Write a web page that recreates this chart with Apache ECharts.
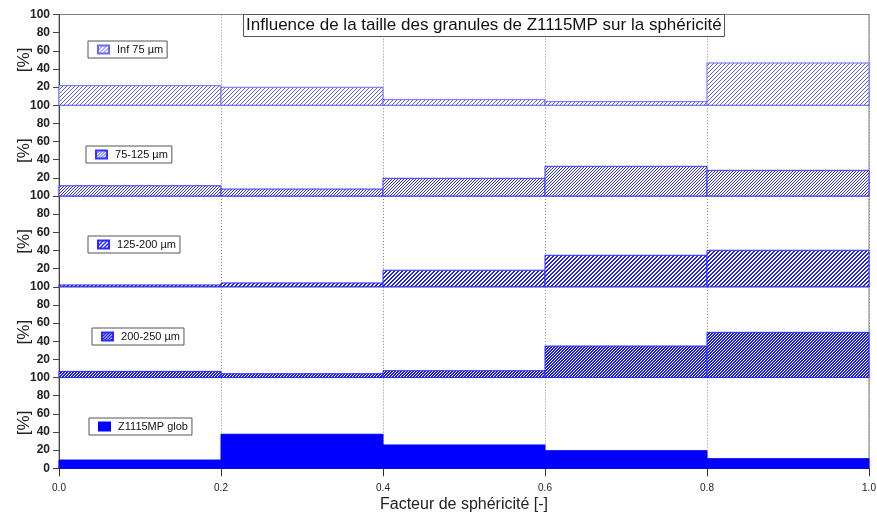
<!DOCTYPE html>
<html>
<head>
<meta charset="utf-8">
<script src="https://cdn.jsdelivr.net/npm/echarts@6/dist/echarts.min.js"></script>
<style>
  html, body { margin: 0; padding: 0; background: #fff; }
  #chart { width: 877px; height: 512px; }
</style>
</head>
<body>
<div id="chart"></div>
<script>
// Sphericity classes (bin edges) and the percentage of granules in each class
const binEdges = [0.0, 0.2, 0.4, 0.6, 0.8, 1.0];
const xTickLabels = ['0.0', '0.2', '0.4', '0.6', '0.8', '1.0'];
const yTicks = [0, 20, 40, 60, 80, 100];
const seriesNames = ['Inf 75 µm', '75-125 µm', '125-200 µm', '200-250 µm', 'Z1115MP glob'];

const inf75     = [21.6, 19.8, 6.2, 4.0, 46.6];
const s75to125  = [11.3, 7.7, 19.5, 32.7, 28.3];
const s125to200 = [2.0, 4.2, 18.2, 34.7, 40.2];
const s200to250 = [6.8, 4.2, 7.5, 34.7, 49.8];
const glob      = [9.1, 37.5, 25.7, 19.4, 10.6];

const panelValues = [inf75, s75to125, s125to200, s200to250, glob];

// Diagonal hatch tiles: pixel (x, y) is inked when (x + y) mod period < width
function hatch(period, width, color) {
  const c = document.createElement('canvas');
  c.width = period; c.height = period;
  const g = c.getContext('2d');
  g.fillStyle = '#ffffff';
  g.fillRect(0, 0, period, period);
  g.fillStyle = color;
  for (let x = 0; x < period; x++) {
    for (let y = 0; y < period; y++) {
      if ((x + y) % period < width) g.fillRect(x, y, 1, 1);
    }
  }
  return { image: c, repeat: 'repeat' };
}

const fills = [
  hatch(4, 1, '#5a5aff'),
  hatch(3, 1, '#2b2bff'),
  hatch(4, 2, '#1f1fff'),
  hatch(3, 2, '#1a1aff'),
  '#0000ff'
];
const outlines = ['#6a6aff', '#3434ff', '#2a2aff', '#2a2aff', '#0000ff'];

const FONT = 'Liberation Sans, Arial, sans-serif';
const gridLeft = 59, gridWidth = 810, gridTop = 14.5, panelH = 90.76;
const legendPos = [[88, 41], [86, 146], [88, 236], [92, 328], [89, 418]];

const grids = [], xAxes = [], yAxes = [], series = [], legends = [];
panelValues.forEach((vals, i) => {
  const last = i === panelValues.length - 1;
  grids.push({
    left: gridLeft, width: gridWidth, top: gridTop + i * panelH, height: panelH,
    outerBoundsMode: 'none', containLabel: false,
    show: true, borderColor: '#808080', borderWidth: 1, backgroundColor: 'transparent'
  });
  xAxes.push({
    type: 'value', gridIndex: i, min: 0, max: 1, interval: 0.2,
    axisLine: { show: last, lineStyle: { color: '#333', width: 1 } },
    axisTick: { show: last, length: 8, lineStyle: { color: '#333' } },
    axisLabel: {
      show: last, margin: 15, fontFamily: FONT, fontSize: 10, color: '#222',
      formatter: v => xTickLabels[Math.round(v / 0.2)]
    },
    splitLine: { show: true, lineStyle: { color: '#808080', type: [1, 2], width: 1 } },
    name: last ? 'Facteur de sphéricité [-]' : '',
    nameLocation: 'middle', nameGap: 28, nameMoveOverlap: false,
    nameTextStyle: { fontFamily: FONT, fontSize: 16, color: '#222' }
  });
  yAxes.push({
    type: 'value', gridIndex: i, min: 0, max: 100, interval: 20,
    axisLine: { show: true, lineStyle: { color: '#444', width: 1 } },
    axisTick: { show: true, length: 6, lineStyle: { color: '#444' } },
    axisLabel: {
      margin: 9, fontFamily: FONT, fontSize: 12, fontWeight: 'bold', color: '#222',
      formatter: v => (v === 0 && !last) ? '' : String(yTicks[yTicks.indexOf(v)])
    },
    splitLine: { show: false },
    name: '[%]', nameLocation: 'middle', nameGap: 26, nameRotate: 90, nameMoveOverlap: false,
    nameTextStyle: { fontFamily: FONT, fontSize: 17, color: '#222' }
  });
  series.push({
    type: 'custom', name: seriesNames[i], xAxisIndex: i, yAxisIndex: i,
    itemStyle: { color: fills[i], borderColor: outlines[i], borderWidth: 1 },
    encode: { x: [0, 1], y: 2 },
    data: vals.map((v, k) => [binEdges[k], binEdges[k + 1], v]),
    renderItem: (params, api) => {
      const topLeft = api.coord([api.value(0), api.value(2)]);
      const bottomRight = api.coord([api.value(1), 0]);
      return {
        type: 'rect',
        shape: {
          x: topLeft[0], y: topLeft[1],
          width: bottomRight[0] - topLeft[0], height: bottomRight[1] - topLeft[1]
        },
        style: api.style()
      };
    }
  });
  legends.push({
    data: [seriesNames[i]], left: legendPos[i][0], top: legendPos[i][1],
    orient: 'horizontal', icon: 'rect', itemWidth: 11, itemHeight: 8,
    padding: [3, 4, 3, 9], borderColor: '#555', borderWidth: 1, backgroundColor: '#fff',
    selectedMode: false, formatter: n => ' ' + n,
    textStyle: { fontFamily: FONT, fontSize: 11, color: '#111' }
  });
});

const chart = echarts.init(document.getElementById('chart'), null, { renderer: 'canvas' });
chart.setOption({
  animation: false,
  backgroundColor: '#fff',
  title: {
    text: 'Influence de la taille des granules de Z1115MP sur la sphéricité',
    left: 243, top: 14, padding: [3, 3, 3, 3],
    borderColor: '#555', borderWidth: 1, backgroundColor: '#fff',
    textStyle: { fontFamily: FONT, fontSize: 17, fontWeight: 'normal', color: '#111' }
  },
  grid: grids, xAxis: xAxes, yAxis: yAxes, legend: legends, series: series
});
</script>
</body>
</html>
